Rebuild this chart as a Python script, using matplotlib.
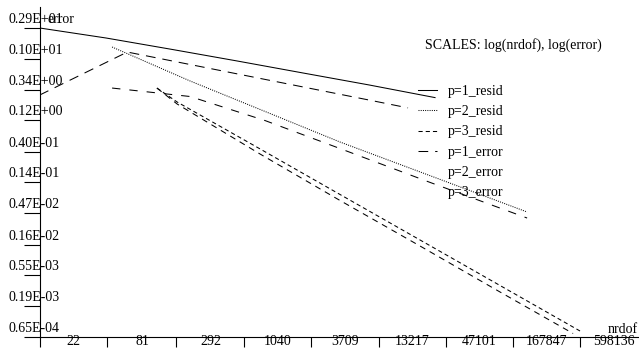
import matplotlib
matplotlib.use("Agg")
import matplotlib.pyplot as plt
from matplotlib.lines import Line2D
from matplotlib.transforms import ScaledTranslation

plt.rcParams['font.family'] = ['Liberation Serif', 'DejaVu Serif']
plt.rcParams['font.size'] = 10
plt.rcParams['lines.scale_dashes'] = False

# convergence history
nrdof_p1 = [6.1, 21.4, 74.5, 255, 887, 3090, 10770]
resid_p1 = [2.90, 2.05, 1.38, 0.925, 0.610, 0.403, 0.260]
nrdof_p1e = [6.1, 32, 255, 887, 3090, 6460]
error_p1 = [0.284, 1.26, 0.592, 0.376, 0.239, 0.182]

nrdof_p2 = [24, 105, 432, 1786, 9800, 61400]
resid_p2 = [1.50, 0.462, 0.161, 0.0558, 0.0174, 0.00494]
error_p2 = [0.362, 0.270, 0.1175, 0.0445, 0.01377, 0.00401]

nrdof_p3 = [56, 82, 394, 1786, 8110, 36800, 167000]
resid_p3 = [0.362, 0.2235, 0.0439, 0.00906, 0.001873, 3.87e-4, 8.0e-5]
nrdof_p3e = [56, 82, 394, 1786, 8110, 36800, 146500]
error_p3 = [0.362, 0.2085, 0.0368, 0.00736, 0.00152, 3.09e-4, 7.34e-5]

x_ticks = [22, 81, 292, 1040, 3709, 13217, 47101, 167847, 598136]
x_labels = [str(v) for v in x_ticks]
y_ticks = [6.5e-5, 1.9e-4, 5.5e-4, 1.6e-3, 4.7e-3, 1.4e-2, 4.0e-2, 0.12, 0.34, 1.0, 2.9]
y_labels = ['0.65E-04', '0.19E-03', '0.55E-03', '0.16E-02', '0.47E-02', '0.14E-01',
            '0.40E-01', '0.12E+00', '0.34E+00', '0.10E+01', '0.29E+01']

fig = plt.figure(figsize=(6.39, 3.48), dpi=100)
ax = fig.add_axes([40 / 639, 11 / 348, 607.5 / 639, 330 / 348])
ax.set_xscale('log')
ax.set_yscale('log')
ax.set_xlim(6.14, 598136)
ax.set_ylim(6.5e-5, 6.0)

lw = 0.75
l1, = ax.plot(nrdof_p1, resid_p1, color='k', lw=lw, ls='-')
l2, = ax.plot(nrdof_p2, resid_p2, color='k', lw=lw, ls=(0, (0.7, 0.9)))
l3, = ax.plot(nrdof_p3, resid_p3, color='k', lw=lw, ls=(0, (3, 2.2)))
l4, = ax.plot(nrdof_p1e, error_p1, color='k', lw=lw, ls=(0, (7, 5)))
l5, = ax.plot(nrdof_p2, error_p2, color='k', lw=lw, ls=(0, (6, 6.5)))
l6, = ax.plot(nrdof_p3e, error_p3, color='k', lw=lw, ls=(0, (4.3, 3.6)))

for s in ['top', 'right']:
    ax.spines[s].set_visible(False)
for s in ['left', 'bottom']:
    ax.spines[s].set_linewidth(0.8)

ax.set_xticks(x_ticks, x_labels)
ax.set_xticks([6.14], minor=True)
ax.set_yticks(y_ticks, y_labels)
ax.set_yticks([], minor=True)
ax.tick_params(axis='x', which='both', direction='out', length=7.2, width=0.8, pad=0)
ax.tick_params(axis='y', which='both', direction='out', length=11.5, width=0.8, pad=11.5)

xshift = ScaledTranslation(-0.3375, 0.12, fig.dpi_scale_trans)
for lab in ax.get_xticklabels():
    lab.set_transform(lab.get_transform() + xshift)
yshift = ScaledTranslation(0, 0.05, fig.dpi_scale_trans)
for lab in ax.get_yticklabels():
    lab.set_horizontalalignment('left')
    lab.set_verticalalignment('baseline')
    lab.set_transform(lab.get_transform() + yshift)

ax.text(8 / 607.5, (337 - 23) / 330, 'error', transform=ax.transAxes,
        ha='left', va='baseline')
fig.text(638 / 639, (348 - 333) / 348, 'nrdof', ha='right', va='baseline')
fig.text(425 / 639, (348 - 49) / 348, 'SCALES: log(nrdof), log(error)', ha='left', va='baseline')

blank = Line2D([], [], linestyle='none')
ax.legend([l1, l2, l3, l4, blank, blank],
          ['p=1_resid', 'p=2_resid', 'p=3_resid', 'p=1_error', 'p=2_error', 'p=3_error'],
          loc='upper left', bbox_to_anchor=(418 / 639, (348 - 85) / 348),
          bbox_transform=fig.transFigure, frameon=False, borderpad=0, borderaxespad=0,
          handlelength=1.37, handletextpad=0.8, labelspacing=0.52)

fig.savefig('out.png', dpi=100)
